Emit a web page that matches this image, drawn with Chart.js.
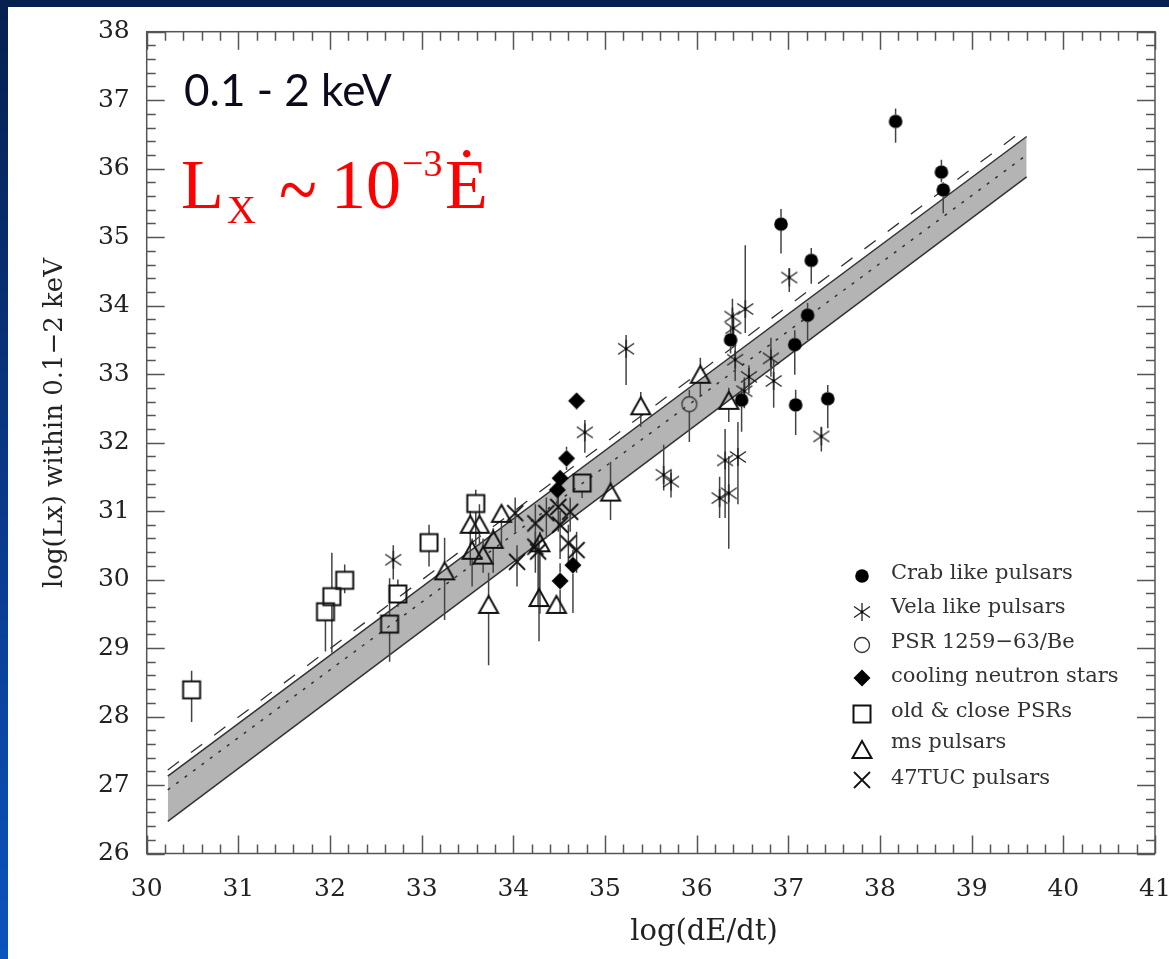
<!DOCTYPE html>
<html>
<head>
<meta charset="utf-8">
<script src="https://cdn.jsdelivr.net/npm/chart.js@4.4.1/dist/chart.umd.min.js"></script>
<style>
  html, body { margin: 0; padding: 0; width: 1169px; height: 959px; overflow: hidden;
    background: linear-gradient(180deg, #06204f 0%, #0a3a8c 55%, #0b54bd 100%); }
  #panel { position: absolute; left: 8px; top: 7px; width: 1161px; height: 952px; background: #fff; }
  canvas { display: block; }
</style>
</head>
<body>
<div id="panel"><canvas id="chart" width="1161" height="952"></canvas></div>
<script>
// values: log(dE/dt) vs log(Lx), with error bar ends
const crabX  = [38.17, 38.67, 38.69, 36.92, 37.25, 37.21, 36.37, 37.07, 36.49, 37.08, 37.43];
const crabY  = [36.69, 35.95, 35.69, 35.19, 34.66, 33.86, 33.50, 33.43, 32.62, 32.55, 32.64];
const crabLo = [36.38, 35.80, 35.35, 34.76, 34.32, 33.50, 33.30, 32.99, 32.16, 32.11, 32.21];
const crabHi = [36.88, 36.13, 35.80, 35.41, 34.84, 34.04, 33.70, 33.64, 32.80, 32.77, 32.84];

const velaX  = [37.01, 36.53, 36.39, 36.40, 36.42, 36.81, 36.57, 36.84, 36.52, 37.36, 36.31, 36.45, 35.64, 35.72, 36.35, 36.25, 35.23, 34.78, 32.69];
const velaY  = [34.41, 33.95, 33.84, 33.67, 33.21, 33.23, 32.96, 32.90, 32.75, 32.09, 31.74, 31.79, 31.53, 31.43, 31.26, 31.19, 33.37, 32.15, 30.29];
const velaLo = [34.20, 33.60, 33.50, 33.40, 32.90, 32.96, 32.72, 32.51, 32.50, 31.87, 30.90, 31.10, 31.30, 31.20, 30.45, 30.90, 32.84, 31.85, 30.00];
const velaHi = [34.55, 34.88, 34.10, 33.90, 33.50, 33.53, 33.13, 33.21, 32.95, 32.23, 32.20, 32.30, 31.97, 31.60, 31.80, 31.50, 33.57, 32.33, 30.50];

const psrX  = [35.92];
const psrY  = [32.56];
const psrLo = [32.01];
const psrHi = [32.77];

const coolX  = [34.69, 34.58, 34.51, 34.48, 34.65, 34.51];
const coolY  = [32.61, 31.77, 31.48, 31.31, 30.21, 29.98];
const coolLo = [32.48, 31.60, 31.40, 31.10, 29.51, 29.51];
const coolHi = [32.65, 31.94, 31.55, 31.40, 30.43, 30.24];

const oldX  = [30.49, 31.95, 32.02, 32.16, 32.65, 32.74, 33.08, 33.59, 34.75];
const oldY  = [28.39, 29.53, 29.75, 29.99, 29.35, 29.79, 30.54, 31.11, 31.41];
const oldLo = [27.92, 28.95, 28.93, 29.80, 28.80, 29.60, 30.19, 30.50, 31.19];
const oldHi = [28.67, 29.53, 30.39, 30.22, 30.02, 30.00, 30.80, 31.31, 31.53];

const msX  = [35.39, 35.06, 36.04, 36.35, 33.87, 33.53, 33.63, 33.55, 33.67, 33.78, 33.25, 33.73, 34.28, 34.47, 34.29];
const msY  = [32.53, 31.27, 32.99, 32.61, 30.96, 30.80, 30.80, 30.42, 30.35, 30.58, 30.12, 29.63, 29.73, 29.63, 30.53];
const msLo = [32.23, 30.87, 32.67, 32.30, 30.50, 30.20, 30.50, 29.90, 30.10, 30.10, 29.41, 28.75, 29.10, 29.55, 29.50];
const msHi = [32.74, 31.72, 33.24, 32.80, 31.00, 31.00, 31.10, 30.60, 30.60, 30.75, 30.61, 30.10, 30.55, 29.75, 30.70];

const tucX  = [34.02, 34.04, 34.24, 34.36, 34.49, 34.62, 34.51, 34.24, 34.27, 34.60, 34.69];
const tucY  = [30.97, 30.26, 30.82, 30.97, 31.06, 30.99, 30.80, 30.48, 30.41, 30.53, 30.43];
const tucLo = [30.70, 29.90, 30.50, 30.60, 30.70, 30.70, 30.30, 30.10, 29.60, 30.20, 30.10];
const tucHi = [31.20, 30.50, 31.10, 31.20, 31.30, 31.20, 31.00, 30.70, 30.60, 30.80, 30.70];

// fitted relations (end points)
const fitX       = [30.23, 39.60];
const bandUpper  = [27.13, 36.47];
const bandLower  = [26.47, 35.88];
const fitDotted  = [26.93, 36.20];
const fitDashed  = [27.22, 36.60];

const xTicks = [30, 31, 32, 33, 34, 35, 36, 37, 38, 39, 40, 41];
const yTicks = [26, 27, 28, 29, 30, 31, 32, 33, 34, 35, 36, 37, 38];

const seriesNames = ['Crab like pulsars', 'Vela like pulsars', 'PSR 1259\u221263/Be',
  'cooling neutron stars', 'old & close PSRs', 'ms pulsars', '47TUC pulsars'];

// marker glyphs as small canvases
function makeMarker(draw) {
  const c = document.createElement('canvas');
  c.width = 26; c.height = 26;
  const g = c.getContext('2d');
  g.translate(13, 13);
  draw(g);
  return c;
}
const markers = {
  crab: makeMarker(g => { g.fillStyle = '#000'; g.beginPath(); g.arc(0, 0, 6.8, 0, Math.PI * 2); g.fill(); }),
  vela: makeMarker(g => {
    g.strokeStyle = '#222'; g.lineWidth = 1.3; g.beginPath();
    g.moveTo(0, -9); g.lineTo(0, 9);
    g.moveTo(-8, -5.5); g.lineTo(8, 5.5);
    g.moveTo(-8, 5.5); g.lineTo(8, -5.5);
    g.stroke();
    g.fillStyle = '#000'; g.beginPath(); g.arc(0, 0, 1.4, 0, Math.PI * 2); g.fill();
  }),
  psr: makeMarker(g => { g.strokeStyle = '#333'; g.lineWidth = 1.3; g.beginPath(); g.arc(0, 0, 7.5, 0, Math.PI * 2); g.stroke(); }),
  cool: makeMarker(g => { g.fillStyle = '#000'; g.beginPath(); g.moveTo(0, -8.5); g.lineTo(8.5, 0); g.lineTo(0, 8.5); g.lineTo(-8.5, 0); g.closePath(); g.fill(); }),
  old: makeMarker(g => { g.strokeStyle = '#111'; g.lineWidth = 2; g.strokeRect(-8.5, -8.5, 17, 17); }),
  ms: makeMarker(g => { g.strokeStyle = '#111'; g.lineWidth = 2; g.beginPath(); g.moveTo(0, -9); g.lineTo(9.5, 8); g.lineTo(-9.5, 8); g.closePath(); g.stroke(); }),
  tuc: makeMarker(g => { g.strokeStyle = '#111'; g.lineWidth = 1.8; g.beginPath(); g.moveTo(-8, -8); g.lineTo(8, 8); g.moveTo(-8, 8); g.lineTo(8, -8); g.stroke(); })
};

const pts = (xs, ys) => xs.map((x, i) => ({ x: x, y: ys[i] }));

function markerSet(label, xs, ys, lo, hi, marker, gap) {
  return {
    type: 'scatter', label: label, data: pts(xs, ys),
    pointStyle: marker, pointRadius: 9, pointHoverRadius: 9,
    errLo: lo, errHi: hi, gap: gap, isMarker: true, order: 1
  };
}

// lower "order" is drawn later (on top)
const lineSet = (ys, extra) => Object.assign({
  type: 'line', data: pts(fitX, ys), borderColor: '#333', borderWidth: 1.5,
  pointRadius: 0, fill: false, tension: 0
}, extra);

// error bars drawn once, after the band and fit lines, before the markers
let barsDone = false;
const errorBars = {
  id: 'errorBars',
  beforeDraw() { barsDone = false; },
  beforeDatasetDraw(chart, args) {
    const ds = chart.data.datasets[args.index];
    if (!ds.isMarker || barsDone) return;
    barsDone = true;
    const ctx = chart.ctx, xs = chart.scales.x, ys = chart.scales.y;
    ctx.save();
    ctx.strokeStyle = '#444';
    ctx.lineWidth = 1.5;
    chart.data.datasets.forEach(d => {
      if (!d.isMarker) return;
      d.data.forEach((p, i) => {
        const px = xs.getPixelForValue(p.x);
        const py = ys.getPixelForValue(p.y);
        const top = ys.getPixelForValue(d.errHi[i]);
        const bot = ys.getPixelForValue(d.errLo[i]);
        ctx.beginPath();
        if (top < py - d.gap) { ctx.moveTo(px, top); ctx.lineTo(px, py - d.gap); }
        if (bot > py + d.gap) { ctx.moveTo(px, py + d.gap); ctx.lineTo(px, bot); }
        ctx.stroke();
      });
    });
    ctx.restore();
  }
};

// frame with inward ticks on all four sides, legend, and annotation texts
const frame = {
  id: 'frame',
  afterDraw(chart) {
    const ctx = chart.ctx, a = chart.chartArea, xs = chart.scales.x, ys = chart.scales.y;
    ctx.save();
    ctx.strokeStyle = '#555';
    ctx.lineWidth = 1.5;
    ctx.strokeRect(a.left, a.top, a.right - a.left, a.bottom - a.top);
    ctx.beginPath();
    for (let i = 150; i <= 205; i++) {
      const px = Math.round(xs.getPixelForValue(i / 5)) + 0.5;
      const len = i % 5 === 0 ? 18 : 9;
      ctx.moveTo(px, a.bottom); ctx.lineTo(px, a.bottom - len);
      ctx.moveTo(px, a.top); ctx.lineTo(px, a.top + len);
    }
    for (let i = 130; i <= 190; i++) {
      const py = Math.round(ys.getPixelForValue(i / 5)) + 0.5;
      const len = i % 5 === 0 ? 18 : 9;
      ctx.moveTo(a.left, py); ctx.lineTo(a.left + len, py);
      ctx.moveTo(a.right, py); ctx.lineTo(a.right - len, py);
    }
    ctx.stroke();

    // axis titles
    ctx.fillStyle = '#222';
    ctx.font = '29px "DejaVu Serif"';
    ctx.textAlign = 'center';
    ctx.textBaseline = 'alphabetic';
    ctx.fillText('log(dE/dt)', 696, 933);
    ctx.save();
    ctx.translate(54, 416);
    ctx.rotate(-Math.PI / 2);
    ctx.font = '26px "DejaVu Serif"';
    ctx.fillText('log(Lx) within 0.1\u22122 keV', 0, 0);
    ctx.restore();

    // legend
    const rowsMarker = [569, 605, 638, 671, 707, 743, 773];
    const rowsText = [567, 601, 636, 670, 705, 736, 772];
    const legendMarkers = [markers.crab, markers.vela, markers.psr, markers.cool, markers.old, markers.ms, markers.tuc];
    ctx.font = '21px "DejaVu Serif"';
    ctx.textAlign = 'left';
    ctx.textBaseline = 'middle';
    ctx.fillStyle = '#333';
    seriesNames.forEach((name, i) => {
      const m = legendMarkers[i];
      ctx.drawImage(m, 854 - m.width / 2, rowsMarker[i] - m.height / 2);
      ctx.fillText(name, 883, rowsText[i]);
    });

    // energy band label
    ctx.textBaseline = 'alphabetic';
    ctx.fillStyle = '#0b0b1c';
    ctx.font = '44px Lato';
    ctx.fillText('0.1 - 2 keV', 176, 99);

    // Lx ~ 10^-3 Edot
    ctx.fillStyle = '#ff0000';
    ctx.font = '70px "Liberation Serif"';
    ctx.fillText('L', 173, 201);
    ctx.fillText('10', 323, 201);
    ctx.fillText('\u0116', 437, 201);
    // tilde stretched into the box it fills in the figure (x 272..307, centred at y 183)
    const tm = ctx.measureText('~');
    const tw = tm.actualBoundingBoxLeft + tm.actualBoundingBoxRight;
    const sx = 35 / tw, sy = 1.2;
    const tmid = (tm.actualBoundingBoxAscent - tm.actualBoundingBoxDescent) / 2;
    ctx.save();
    ctx.translate(272 + tm.actualBoundingBoxLeft * sx, 183 + tmid * sy);
    ctx.scale(sx, sy);
    ctx.fillText('~', 0, 0);
    ctx.restore();
    ctx.font = '40px "Liberation Serif"';
    ctx.fillText('X', 219, 216);
    ctx.font = '38px "Liberation Serif"';
    ctx.fillText('\u22123', 394, 169);
    ctx.restore();
  }
};

const tickFont = { family: 'DejaVu Serif', size: 25 };

new Chart(document.getElementById('chart'), {
  type: 'scatter',
  data: {
    datasets: [
      lineSet(bandUpper, { fill: '+1', backgroundColor: '#b4b4b4', order: 12 }),
      lineSet(bandLower, { order: 11 }),
      lineSet(fitDotted, { borderDash: [3, 7.5], order: 5 }),
      lineSet(fitDashed, { borderDash: [14, 15], borderWidth: 1.3, order: 5 }),
      markerSet(seriesNames[0], crabX, crabY, crabLo, crabHi, markers.crab, 6.8),
      markerSet(seriesNames[1], velaX, velaY, velaLo, velaHi, markers.vela, 0),
      markerSet(seriesNames[2], psrX, psrY, psrLo, psrHi, markers.psr, 7.5),
      markerSet(seriesNames[3], coolX, coolY, coolLo, coolHi, markers.cool, 8.5),
      markerSet(seriesNames[4], oldX, oldY, oldLo, oldHi, markers.old, 8.5),
      markerSet(seriesNames[5], msX, msY, msLo, msHi, markers.ms, 8.5),
      markerSet(seriesNames[6], tucX, tucY, tucLo, tucHi, markers.tuc, 0)
    ]
  },
  options: {
    responsive: false,
    animation: false,
    events: [],
    layout: { padding: { left: 0, top: 24.7, right: 14, bottom: 0 } },
    plugins: { legend: { display: false }, tooltip: { enabled: false } },
    scales: {
      x: {
        type: 'linear', min: 30, max: 41,
        grid: { display: false }, border: { display: false },
        ticks: { stepSize: 1, font: tickFont, color: '#222', padding: 13, maxRotation: 0, autoSkip: false,
          callback: v => (xTicks.includes(v) ? String(v) : '') },
        afterFit: s => { s.height = 105.5; s.paddingLeft = 0; s.paddingRight = 0; }
      },
      y: {
        type: 'linear', min: 26, max: 38,
        grid: { display: false }, border: { display: false },
        ticks: { stepSize: 1, font: tickFont, color: '#222', padding: 9, autoSkip: false,
          callback: v => (yTicks.includes(v) ? String(v) : '') },
        afterFit: s => { s.width = 138.7; s.paddingTop = 0; s.paddingBottom = 0; }
      }
    }
  },
  plugins: [errorBars, frame]
});
</script>
</body>
</html>
